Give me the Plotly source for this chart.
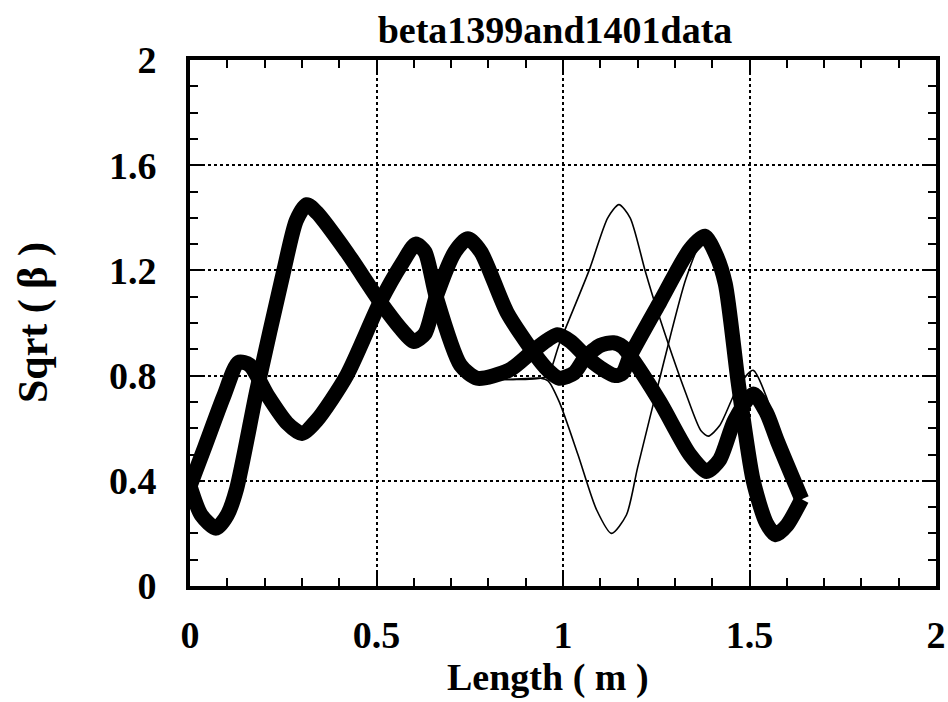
import plotly.graph_objects as go

# ---- data ----
curve1_x = [0.0, 0.03, 0.07, 0.10, 0.125, 0.18, 0.25, 0.285, 0.313, 0.34, 0.42, 0.51, 0.57, 0.60, 0.63,
            0.66, 0.71, 0.745, 0.78, 0.85, 0.925, 0.96, 0.99, 1.03, 1.06, 1.10, 1.135, 1.16, 1.18,
            1.26, 1.34, 1.385, 1.42, 1.46, 1.51, 1.545, 1.575, 1.64]
curve1_y = [0.38, 0.27, 0.22, 0.27, 0.37, 0.75, 1.19, 1.39, 1.45, 1.42, 1.27, 1.08, 0.97, 0.93, 0.96,
            1.10, 1.27, 1.32, 1.27, 1.04, 0.88, 0.82, 0.79, 0.81, 0.87, 0.915, 0.925, 0.91, 0.875,
            0.70, 0.50, 0.435, 0.48, 0.63, 0.73, 0.66, 0.55, 0.33]

curve2_x = [0.0, 0.04, 0.09, 0.13, 0.16, 0.21, 0.26, 0.30, 0.34, 0.42, 0.51, 0.57, 0.605, 0.63, 0.66,
            0.725, 0.77, 0.855, 0.925, 0.985, 1.02, 1.06, 1.10, 1.14, 1.16, 1.18, 1.26, 1.34, 1.38,
            1.41, 1.435, 1.47, 1.51, 1.545, 1.57, 1.60, 1.64]
curve2_y = [0.38, 0.53, 0.72, 0.85, 0.84, 0.72, 0.62, 0.58, 0.63, 0.80, 1.08, 1.23, 1.30, 1.27, 1.10,
            0.84, 0.79, 0.82, 0.90, 0.955, 0.93, 0.875, 0.83, 0.80, 0.81, 0.875, 1.08, 1.28, 1.33,
            1.26, 1.15, 0.77, 0.40, 0.24, 0.195, 0.23, 0.33]

thinA_x = [0.77, 0.85, 0.94, 0.96, 0.99, 1.07, 1.12, 1.15, 1.18, 1.22, 1.25, 1.33, 1.37, 1.39, 1.42,
           1.47, 1.51, 1.545, 1.575, 1.64]
thinA_y = [0.79, 0.785, 0.79, 0.80, 0.92, 1.20, 1.40, 1.45, 1.40, 1.20, 1.06, 0.73, 0.59, 0.57, 0.61,
           0.76, 0.82, 0.72, 0.58, 0.33]

thinB_x = [0.77, 0.85, 0.94, 0.96, 0.99, 1.04, 1.09, 1.13, 1.17, 1.20, 1.27, 1.33, 1.37, 1.40, 1.435,
           1.47, 1.51, 1.545, 1.57, 1.60, 1.64]
thinB_y = [0.79, 0.785, 0.79, 0.78, 0.70, 0.50, 0.29, 0.20, 0.27, 0.45, 0.85, 1.17, 1.30, 1.26, 1.15,
           0.77, 0.40, 0.24, 0.195, 0.23, 0.33]

x_tickvals = [0, 0.5, 1, 1.5, 2]
x_ticktext = ["0", "0.5", "1", "1.5", "2"]
y_tickvals = [0, 0.4, 0.8, 1.2, 1.6, 2]
y_ticktext = ["0", "0.4", "0.8", "1.2", "1.6", "2"]

title_text = "beta1399and1401data"
x_title = "Length ( m )"
y_title = "Sqrt ( β )"

FONT = "Liberation Serif"

fig = go.Figure()
for xs, ys in [(thinA_x, thinA_y), (thinB_x, thinB_y)]:
    fig.add_trace(go.Scatter(x=xs, y=ys, mode="lines",
                             line=dict(color="black", width=1.6, shape="spline", smoothing=0.7),
                             showlegend=False, hoverinfo="skip"))
for xs, ys in [(curve1_x, curve1_y), (curve2_x, curve2_y)]:
    fig.add_trace(go.Scatter(x=xs, y=ys, mode="lines",
                             line=dict(color="black", width=15, shape="spline", smoothing=0.7),
                             showlegend=False, hoverinfo="skip"))

axis_common = dict(
    showline=True, linecolor="black", linewidth=4, mirror="allticks",
    ticks="inside", ticklen=14, tickwidth=2, tickcolor="black",
    showgrid=True, gridcolor="black", gridwidth=2, griddash="dot",
    zeroline=False,
    tickfont=dict(family=FONT, size=38, color="black", weight="bold"),
)

fig.update_xaxes(range=[0, 2], tickvals=x_tickvals, ticktext=x_ticktext,
                 minor=dict(dtick=0.1, ticks="inside", ticklen=8, tickwidth=2, tickcolor="black", showgrid=False),
                 ticklabelstandoff=12,
                 **axis_common)
fig.update_yaxes(range=[0, 2], tickvals=y_tickvals, ticktext=y_ticktext,
                 minor=dict(dtick=0.1, ticks="inside", ticklen=8, tickwidth=2, tickcolor="black", showgrid=False),
                 ticklabelstandoff=22,
                 **axis_common)

fig.update_layout(
    width=948, height=702,
    margin=dict(l=190, r=12, t=60, b=116, autoexpand=False),
    paper_bgcolor="white", plot_bgcolor="white",
    title=dict(text=title_text, x=555 / 948, xanchor="center", xref="container",
               y=1 - 30 / 702, yanchor="middle", yref="container",
               font=dict(family=FONT, size=38, color="black", weight="bold")),
    annotations=[
        dict(text=x_title, xref="paper", yref="paper", x=(548 - 190) / 746, y=-(677 - 586) / 526,
             xanchor="center", yanchor="middle", showarrow=False,
             font=dict(family=FONT, size=38, color="black", weight="bold")),
        dict(text=y_title, xref="paper", yref="paper", x=-(190 - 33) / 746, y=(586 - 323) / 526,
             xanchor="center", yanchor="middle", showarrow=False, textangle=-90,
             font=dict(family=FONT, size=42, color="black", weight="bold")),
    ],
)

fig.write_html("out.html")
